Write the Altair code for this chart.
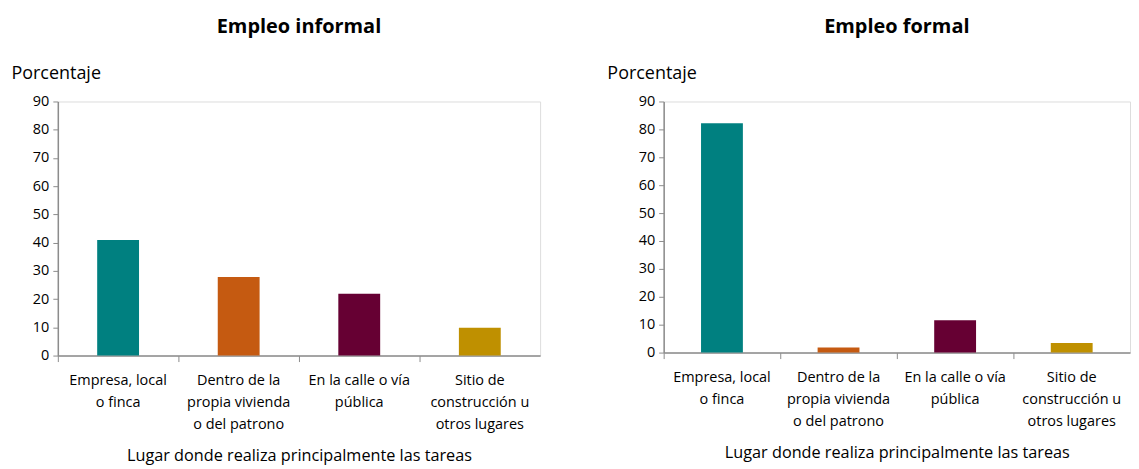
import altair as alt
import pandas as pd

categories = [
    "Empresa, local|o finca",
    "Dentro de la|propia vivienda|o del patrono",
    "En la calle o vía|pública",
    "Sitio de|construcción u|otros lugares",
]
informal_values = [40.9, 27.8, 21.9, 9.9]
formal_values = [82.2, 1.8, 11.6, 3.4]
colors = ["#008080", "#C55A11", "#660033", "#BF9000"]
y_ticks = [0, 10, 20, 30, 40, 50, 60, 70, 80, 90]

FONT = "Open Sans"
AXIS_COLOR = "#8c8c8c"


def panel(values, title, width, height, title_x):
    df = pd.DataFrame({"cat": categories, "val": values, "color": colors})
    return (
        alt.Chart(df, title=alt.Title(title, fontSize=20, fontWeight="bold",
                                      font=FONT, color="#000000", offset=28,
                                      frame="group"))
        .mark_bar(size=42)
        .encode(
            x=alt.X(
                "cat:N",
                sort=categories,
                scale=alt.Scale(paddingInner=0, paddingOuter=0),
                axis=alt.Axis(
                    title="Lugar donde realiza principalmente las tareas",
                    titleFontSize=16.3, titleFont=FONT, titleFontWeight="normal",
                    titleColor="#000000", titlePadding=17,
                    labelExpr="split(datum.label, '|')",
                    labelAngle=0, labelFontSize=14.5, labelFont=FONT,
                    labelColor="#000000", labelLineHeight=22,
                    labelPadding=12, labelBaseline="top",
                    bandPosition=0, tickSize=6, tickColor=AXIS_COLOR,
                    domainColor=AXIS_COLOR, domainWidth=1.5,
                ),
            ),
            y=alt.Y(
                "val:Q",
                scale=alt.Scale(domain=[0, 90], nice=False),
                axis=alt.Axis(
                    values=y_ticks, title="Porcentaje", titleAngle=0,
                    titleAlign="left", titleBaseline="alphabetic",
                    titleX=title_x, titleY=-23, titleFontSize=18, titleFont=FONT,
                    titleFontWeight="normal", titleColor="#000000",
                    labelFontSize=14.5, labelFont=FONT, labelColor="#000000",
                    labelPadding=4, tickSize=5, tickColor=AXIS_COLOR,
                    domainColor=AXIS_COLOR, domainWidth=1.5, grid=False,
                ),
            ),
            color=alt.Color("color:N", scale=None, legend=None),
        )
        .properties(width=width, height=height)
    )


left = panel(informal_values, "Empleo informal", 484, 255, -47)
right = panel(formal_values, "Empleo formal", 468, 252, -57)

chart = (
    alt.hconcat(left, right, spacing=65,
                padding={"left": 2, "top": 7, "right": 0, "bottom": 0})
    .configure_view(stroke=None)
    .configure(font=FONT)
)

chart.save("out.html", embed_options={"renderer": "svg", "actions": False})
